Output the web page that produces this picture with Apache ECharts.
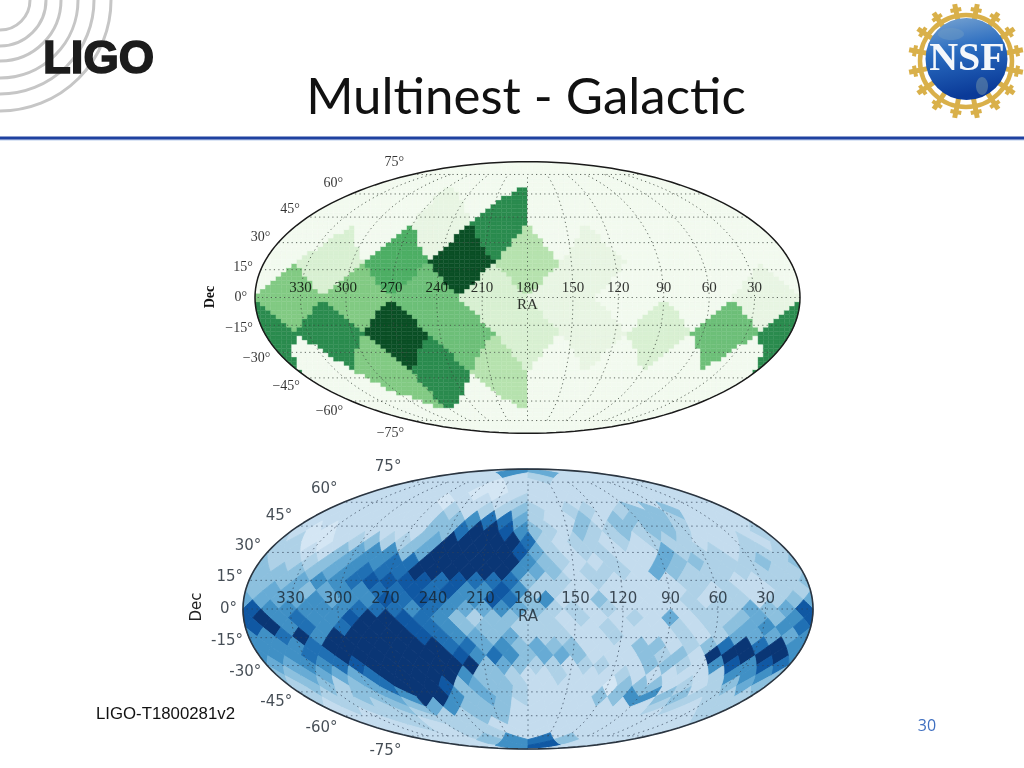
<!DOCTYPE html>
<html><head><meta charset="utf-8">
<style>html,body{margin:0;padding:0;background:#fff}#c{width:1024px;height:768px}</style>
<script src="https://cdn.jsdelivr.net/npm/echarts@6/dist/echarts.min.js"></script>
</head><body><div id="c"></div>
<script>
// tick labels
const raTicks=[330,300,270,240,210,180,150,120,90,60,30];
const decTicks=[75,60,45,30,15,0,-15,-30,-45,-60,-75];
// shade scales
const greenShades=['#f2faef','#e8f5e3','#d8f0d2','#b6e2ae','#82ca83','#6dbf78','#4dae64','#2a8b4e','#0a4f25'];
const blueShades=['#d4e6f4','#c4dcee','#aed1e7','#8cc0de','#67abd5','#4090c5','#2070b4','#1058a3','#0a3675'];
// top map: sky pixels per ring, north to south, from the left edge to the right
const greenRing1=[0,0,0,0];
const greenRing2=[0,0,1,7,0,0,0,0];
const greenRing3=[0,2,6,8,3,1,0,0];
const greenRing4=[4,4,5,2,1,0,0,1];
const greenRing5=[7,7,8,5,2,1,2,5];
const greenRing6=[0,4,7,3,0,0,0,0];
const greenRing7=[0,0,0,0];
const greenRings=[greenRing1,greenRing2,greenRing3,greenRing4,greenRing5,greenRing6,greenRing7];
// bottom map
const blueRing01=[1,5,4,1];
const blueRing02=[1,1,1,1,2,1,1,1];
const blueRing03=[1,1,1,1,0,1,1,1,1,1,1,1];
const blueRing04=[1,1,1,1,1,0,0,1,1,1,1,1,1,1,1,1];
const blueRing05=[1,1,1,1,1,0,1,1,1,2,1,1,1,1,1,1,1,1,1,1];
const blueRing06=[1,1,1,1,1,1,1,2,1,2,2,3,2,1,2,2,1,2,3,3,3,1,1,1];
const blueRing07=[1,1,1,1,1,1,1,1,3,3,5,6,6,4,2,1,1,3,1,3,3,3,3,2,1,1,1,1];
const blueRing08=[1,0,0,1,1,1,1,1,1,3,3,6,8,8,7,5,3,2,1,3,2,2,3,2,3,3,2,1,1,1,1,2];
const blueRing09=[2,2,0,0,1,2,3,2,2,3,4,8,8,8,8,8,6,2,1,2,2,1,2,1,2,2,2,1,1,1,2,1];
const blueRing10=[2,2,1,1,3,4,5,5,3,4,8,8,8,8,8,7,4,2,1,2,2,1,1,1,4,2,2,2,1,2,2,2];
const blueRing11=[3,2,2,2,3,4,5,5,6,6,8,8,8,8,8,8,5,3,2,1,1,2,1,1,4,3,3,2,2,2,3,2];
const blueRing12=[3,3,3,3,4,5,6,6,6,8,8,8,8,8,8,5,4,3,1,2,2,2,1,4,3,2,2,2,2,2,2,2];
const blueRing13=[3,3,3,4,5,5,6,7,7,7,7,6,7,6,6,6,3,2,2,1,2,1,1,1,1,2,2,2,1,1,2,2];
const blueRing14=[3,4,4,3,4,5,5,6,6,7,6,7,5,5,7,5,2,2,1,1,1,1,1,1,1,2,1,2,1,1,2,2];
const blueRing15=[4,4,4,4,5,4,5,5,7,6,7,6,5,5,7,6,3,5,1,1,3,1,1,1,1,2,1,2,2,1,2,3];
const blueRing16=[7,5,5,5,5,5,6,6,6,5,6,5,4,4,5,4,3,2,2,1,2,1,1,1,1,2,2,2,4,3,4,7];
const blueRing17=[7,8,5,6,5,5,7,8,8,7,6,5,3,2,3,3,2,2,1,2,1,1,2,1,4,1,2,2,3,4,3,5];
const blueRing18=[7,8,5,6,5,6,8,8,8,7,6,5,3,3,3,2,2,2,1,1,2,1,1,1,2,1,2,3,4,5,5,6];
const blueRing19=[5,5,6,8,5,8,8,8,8,8,7,6,5,4,3,4,2,2,2,1,1,2,1,1,1,2,1,2,4,4,4,4];
const blueRing20=[5,5,5,6,8,8,8,8,8,8,8,6,6,4,5,3,4,3,3,1,1,1,3,3,1,2,3,6,8,6,8,5];
const blueRing21=[5,5,5,6,6,8,8,8,8,8,8,8,7,5,6,5,3,4,4,3,1,1,1,3,2,3,1,8,8,8,8,8];
const blueRing22=[4,4,5,5,6,7,8,8,8,8,8,8,8,3,4,3,2,2,1,2,2,1,1,3,3,2,1,5,7,5,7,6];
const blueRing23=[3,3,4,4,4,4,6,8,8,8,8,8,5,3,3,2,1,1,2,1,1,1,2,1,1,1,1,1,2,5,5,5];
const blueRing24=[2,3,3,2,3,4,6,8,8,8,7,3,4,3,3,2,1,1,1,1,1,0,3,3,3,1,2,1,2,3,4,3];
const blueRing25=[2,2,2,3,3,4,5,8,8,5,3,4,3,2,1,1,1,1,3,3,5,5,3,3,2,2,2,2];
const blueRing26=[1,2,2,2,3,3,4,5,3,3,3,1,1,1,1,1,1,1,1,2,2,1,2,2];
const blueRing27=[1,1,2,2,2,2,2,3,3,1,1,1,1,1,1,1,1,1,1,2];
const blueRing28=[1,1,2,1,2,2,1,1,1,1,1,1,1,1,1,1];
const blueRing29=[1,1,1,2,2,1,1,1,1,1,1,1];
const blueRing30=[1,1,3,5,6,3,1,1];
const blueRing31=[1,5,7,1];
const blueRings=[blueRing01,blueRing02,blueRing03,blueRing04,blueRing05,blueRing06,blueRing07,blueRing08,blueRing09,blueRing10,blueRing11,blueRing12,blueRing13,blueRing14,blueRing15,blueRing16,blueRing17,blueRing18,blueRing19,blueRing20,blueRing21,blueRing22,blueRing23,blueRing24,blueRing25,blueRing26,blueRing27,blueRing28,blueRing29,blueRing30,blueRing31];

// Mollweide projection, normalised to the unit ellipse
function auxAngle(z){let lo=-Math.PI/2,hi=Math.PI/2;const t=Math.PI*z;
  for(let n=0;n<50;n++){const m=(lo+hi)/2;if(2*m+Math.sin(2*m)<t)lo=m;else hi=m;}return (lo+hi)/2;}
function projZ(ra,z){const th=auxAngle(z);return [(180-ra)/180*Math.cos(th),Math.sin(th)];}
function projDec(ra,dec){return projZ(ra,Math.sin(dec*Math.PI/180));}

// HEALPix plane <-> sphere
function planeToMoll(xs,ys,xt){const a=Math.abs(ys);let ra=xs,z;
  if(a<=45){z=ys/67.5;}else{
    ra=a>=90?xt:xs-(a-45)/(a-90)*(xs-xt);
    const s=2-a/45;z=(ys<0?-1:1)*(1-s*s/3);}
  return projZ(ra,z);}
function pixelOutlines(n,i,k){
  const r=Math.min(i,4*n-i),h=45/n,ys=45*(2-i/n);let centres=[];
  if(r<n){const j=4*r-1-k,f=Math.floor(j/r),m=j%r;const xs=90*f+45+(m-(r-1)/2)*2*h;centres=[{xs,xt:90*f+45}];}
  else{const s=(i-n+1)%2;
    if(s){const j=4*n-1-k,xs=(j+.5)*2*h;centres=[{xs,xt:(Math.floor(xs/90))*90+45}];}
    else{const j=(4*n-k)%(4*n),xs=j*2*h;
      if(j===0)centres=[{xs:0,xt:45,lo:0,hi:360},{xs:360,xt:315,lo:0,hi:360}];
      else centres=[{xs,xt:Math.floor(xs/90)*90+45}];}}
  return centres.map(c=>{const pts=[],steps=5;
    const cor=[[c.xs,ys+h],[c.xs+h,ys],[c.xs,ys-h],[c.xs-h,ys]];
    for(let e=0;e<4;e++){const A=cor[e],B=cor[(e+1)%4];
      for(let t=0;t<steps;t++){let x=A[0]+(B[0]-A[0])*t/steps;const y=A[1]+(B[1]-A[1])*t/steps;
        if(c.lo!==undefined)x=Math.min(c.hi,Math.max(c.lo,x));
        pts.push(planeToMoll(x,y,c.xt));}}
    return pts;});}
function lookupLevel(rings,n,u,v){
  const th=Math.asin(v),z=(2*th+Math.sin(2*th))/Math.PI;
  let ra=180-u/Math.max(Math.cos(th),1e-4)*180;ra=Math.min(359.999,Math.max(0,ra));
  const h=45/n;let xs,ys;
  if(Math.abs(z)<=2/3){xs=ra;ys=z*67.5;}
  else{const s=Math.sqrt(3*(1-Math.abs(z))),xt=Math.floor(ra/90)*90+45;xs=xt+(ra-xt)*s;ys=(z<0?-1:1)*45*(2-s);}
  const T=xs/h,W=ys/h,p=Math.floor((T+W)/2),q=Math.floor((T-W)/2),Tc=p+q+1,Wc=p-q;
  let i=2*n-Wc;i=Math.max(1,Math.min(4*n-1,i));
  const r=Math.min(i,4*n-i);let pos;
  if(r<n){const xc=Tc*h,f=Math.min(3,Math.max(0,Math.floor(xc/90)));
    let m=Math.round((xc-(90*f+45))/(2*h)+(r-1)/2);m=Math.max(0,Math.min(r-1,m));
    pos=4*r-1-(f*r+m);}
  else{const s=(i-n+1)%2;
    if(s)pos=4*n-1-(((Tc-1)/2+4*n)%(4*n));else pos=(4*n-((Tc/2+4*n)%(4*n)))%(4*n);}
  return rings[i-1][pos];
}

// top map: a raster through the sky pixels
const rasterCols=104,rasterRows=64;
const rasterData=[];
for(let a=0;a<rasterCols;a++)for(let b=0;b<rasterRows;b++){
  const u0=-1+2*a/rasterCols,u1=u0+2/rasterCols,v0=-1+2*b/rasterRows,v1=v0+2/rasterRows;
  const vc=(v0+v1)/2,wc=Math.sqrt(Math.max(0,1-vc*vc));
  const uc=Math.max(-wc*.999,Math.min(wc*.999,(u0+u1)/2));
  const w=Math.sqrt(Math.max(0,1-Math.min(v0*v0,v1*v1)));
  if(u1<-w||u0>w)continue;
  rasterData.push([u0,v0,lookupLevel(greenRings,2,uc,vc)]);
}
function renderRaster(p,api){
  const u0=api.value(0),v0=api.value(1),u1=u0+2/rasterCols,v1=v0+2/rasterRows;
  const wB=Math.sqrt(Math.max(0,1-v0*v0)),wT=Math.sqrt(Math.max(0,1-v1*v1));
  const cl=(x,w)=>Math.max(-w,Math.min(w,x));
  const pts=[[cl(u0,wB),v0],[cl(u1,wB),v0],[cl(u1,wT),v1],[cl(u0,wT),v1]].map(q=>api.coord(q));
  const col=greenShades[api.value(2)];
  return {type:'polygon',shape:{points:pts},style:{fill:col,stroke:col,lineWidth:.4},silent:true};
}
const blueData=[];
blueRings.forEach((ring,ri)=>ring.forEach((lv,k)=>blueData.push([ri+1,k,lv])));
function renderBlue(p,api){
  const col=blueShades[api.value(2)];
  return {type:'group',children:pixelOutlines(8,api.value(0),api.value(1)).map(o=>({
    type:'polygon',shape:{points:o.map(q=>api.coord(q))},style:{fill:col,stroke:col,lineWidth:.9},silent:true}))};
}

function graticule(ax,color,dash,width){
  const s=[];const base={type:'line',xAxisIndex:ax,yAxisIndex:ax,symbol:'none',silent:true,clip:false,animation:false,z:5,
    lineStyle:{color,width,type:dash}};
  [150,120,90,60,30,0,-30,-60,-90,-120,-150].forEach(off=>{const d=[];
    for(let a=-75;a<=75;a+=3)d.push(projDec(180+off,a));
    s.push(Object.assign({},base,{data:d}));});
  decTicks.forEach(t=>{const d=[];for(let ra=0;ra<=360;ra+=6)d.push(projDec(ra,t));
    s.push(Object.assign({},base,{data:d}));});
  return s;
}
function outline(ax,color,width){const d=[];for(let a=0;a<=360;a+=2)d.push([Math.cos(a*Math.PI/180),Math.sin(a*Math.PI/180)]);
  return {type:'line',xAxisIndex:ax,yAxisIndex:ax,symbol:'none',silent:true,clip:false,z:6,data:d,lineStyle:{color,width}};}
function labels(ax,font,size,color,decScale,raV,raNameV,minus,decSize,dist){
  const txt={fontFamily:font,color};
  const mk=(d,lab)=>({type:'scatter',xAxisIndex:ax,yAxisIndex:ax,clip:false,silent:true,symbolSize:0,z:7,data:d,
    label:Object.assign({show:true},lab,{formatter:q=>q.data[2]})});
  const ra=raTicks.map(t=>[(180-t)/180,raV,String(t)]);ra.push([0,raNameV,'RA']);
  const dec=decTicks.map(t=>{const q=projDec(360,t);return [q[0],q[1]*decScale,(t<0?minus+Math.abs(t):String(t))+'°'];});
  return [mk(ra,Object.assign({position:'inside',fontSize:size},txt)),
          mk(dec,Object.assign({position:'left',distance:dist,fontSize:decSize},txt))];
}

// logo pieces
const logoRadii=[30,46,61,78,94,111];
const g=[];
logoRadii.forEach(r=>g.push({type:'circle',shape:{cx:0,cy:0,r},style:{fill:'none',stroke:'#c6c6c6',lineWidth:3},z:1}));
g.push({type:'text',style:{x:43,y:60,text:'LIGO',font:'bold 45.5px "Liberation Sans"',fill:'#1c1c1c',stroke:'#1c1c1c',lineWidth:1.6,textVerticalAlign:'middle'},z:2});
g.push({type:'text',style:{x:526,y:98,text:'Multinest - Galactic',font:'51px Lato',fill:'#111',textAlign:'center',textVerticalAlign:'middle'}});
g.push({type:'rect',shape:{x:0,y:136.5,width:1024,height:3.2},style:{fill:'#1f41a0'}});
g.push({type:'rect',shape:{x:0,y:139.7,width:1024,height:1.3},style:{fill:'#dbe5f5'}});
g.push({type:'text',style:{x:96,y:714,text:'LIGO-T1800281v2',font:'16.8px "Liberation Sans"',fill:'#111',textVerticalAlign:'middle'}});
g.push({type:'text',style:{x:927,y:726,text:'30',font:'16px "Open Sans"',fill:'#3f6fc0',textAlign:'center',textVerticalAlign:'middle'}});
g.push({type:'text',rotation:Math.PI/2,x:210,y:297,style:{x:0,y:0,text:'Dec',font:'bold 14px "Liberation Serif"',fill:'#111',textAlign:'center',textVerticalAlign:'middle'}});
g.push({type:'text',rotation:Math.PI/2,x:197,y:607,style:{x:0,y:0,text:'Dec',font:'15px "DejaVu Sans"',fill:'#222',textAlign:'center',textVerticalAlign:'middle'}});
// NSF emblem
const nx=966,ny=61,gold='#d9b04a';
for(let a=0;a<16;a++){const t=a*Math.PI/8+Math.PI/16,c=Math.cos(t),s=Math.sin(t);
  g.push({type:'line',shape:{x1:nx+c*38,y1:ny+s*38,x2:nx+c*58,y2:ny+s*58},style:{stroke:gold,lineWidth:5}});
  g.push({type:'line',shape:{x1:nx+c*52-s*5.5,y1:ny+s*52+c*5.5,x2:nx+c*52+s*5.5,y2:ny+s*52-c*5.5},style:{stroke:gold,lineWidth:4}});
}
g.push({type:'circle',shape:{cx:nx,cy:ny,r:46},style:{fill:'none',stroke:gold,lineWidth:4.5}});
g.push({type:'circle',shape:{cx:nx+.5,cy:59,r:41},style:{fill:{type:'linear',x:0,y:0,x2:.2,y2:1,colorStops:[{offset:0,color:'#7ba6d2'},{offset:.45,color:'#2a6cc0'},{offset:1,color:'#0a3a98'}]}}});
g.push({type:'ellipse',shape:{cx:951,cy:34,rx:13,ry:6},style:{fill:'#6f9cc4',opacity:.45}});
g.push({type:'ellipse',shape:{cx:982,cy:86,rx:6,ry:9},style:{fill:'#6f8fa8',opacity:.55}});
g.push({type:'text',style:{x:nx+1,y:60,text:'NSF',font:'bold 40px "Liberation Serif"',fill:'#f4f7fb',textAlign:'center',textVerticalAlign:'middle'}});

const series=[
  {type:'custom',xAxisIndex:0,yAxisIndex:0,renderItem:renderRaster,data:rasterData,silent:true,z:2},
  {type:'custom',xAxisIndex:1,yAxisIndex:1,renderItem:renderBlue,data:blueData,silent:true,z:2},
  ...graticule(0,'rgba(60,70,60,.8)',[1.2,3.2],1),
  ...graticule(1,'rgba(50,65,85,.7)',[1.5,3.5],1),
  outline(0,'#1a1a1a',1.5),outline(1,'#2b3540',1.6),
  ...labels(0,'"Liberation Serif"',15,'#000',1.1,.07,-.057,'−',14,8),
  ...labels(1,'"DejaVu Sans"',15,'#17202b',1.12,.07,-.057,'-',15,6)
];
const axisBase={type:'value',min:-1,max:1,show:false};
const chart=echarts.init(document.getElementById('c'),null,{renderer:'canvas'});
chart.setOption({
  animation:false,backgroundColor:'#fff',
  grid:[{left:255,top:161.7,width:545,height:271.6},{left:243,top:469,width:570,height:280}],
  xAxis:[Object.assign({gridIndex:0},axisBase),Object.assign({gridIndex:1},axisBase)],
  yAxis:[Object.assign({gridIndex:0},axisBase),Object.assign({gridIndex:1},axisBase)],
  series,graphic:g
});
</script></body></html>
